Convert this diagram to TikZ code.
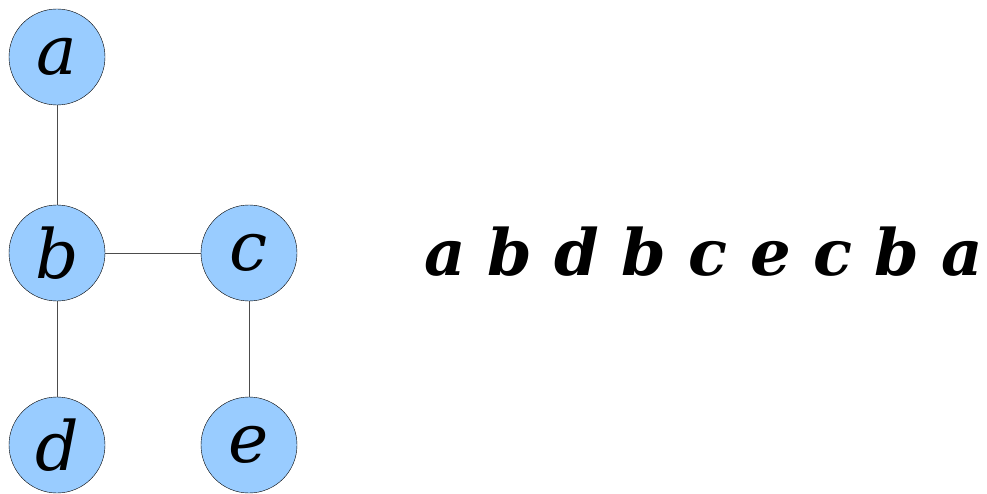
\documentclass[tikz,border=0pt]{standalone}
\usepackage{fontspec}
\setmainfont{DejaVu Serif}
\usepackage{tikz}
\usetikzlibrary{positioning}
\tikzset{
  vertex/.style = {circle, draw=black, thin, fill=vfill, minimum size=96pt,
                   inner sep=0pt, font=\fontsize{68}{68}\selectfont\itshape},
  edge/.style   = {draw=black!70, thin},
  walk/.style   = {font=\fontsize{64}{64}\selectfont\bfseries\itshape},
}
\definecolor{vfill}{HTML}{99CCFF}

\begin{document}
\begin{tikzpicture}[x=1pt, y=-1pt]
  \useasboundingbox (0,0) rectangle (987,494);
  % tree
  \node[vertex] (a) at ( 57, 57) {a};
  \node[vertex] (b) at ( 57,253) {b};
  \node[vertex] (c) at (249,253) {c};
  \node[vertex] (d) at ( 57,445) {d};
  \node[vertex] (e) at (249,445) {e};
  \draw[edge] (a) -- (b);
  \draw[edge] (b) -- (c);
  \draw[edge] (b) -- (d);
  \draw[edge] (c) -- (e);
  % euler tour
  \node[walk, anchor=base west, inner sep=0pt] (tour) at (424,275)
    {a b d b c e c b a};
\end{tikzpicture}
\end{document}
